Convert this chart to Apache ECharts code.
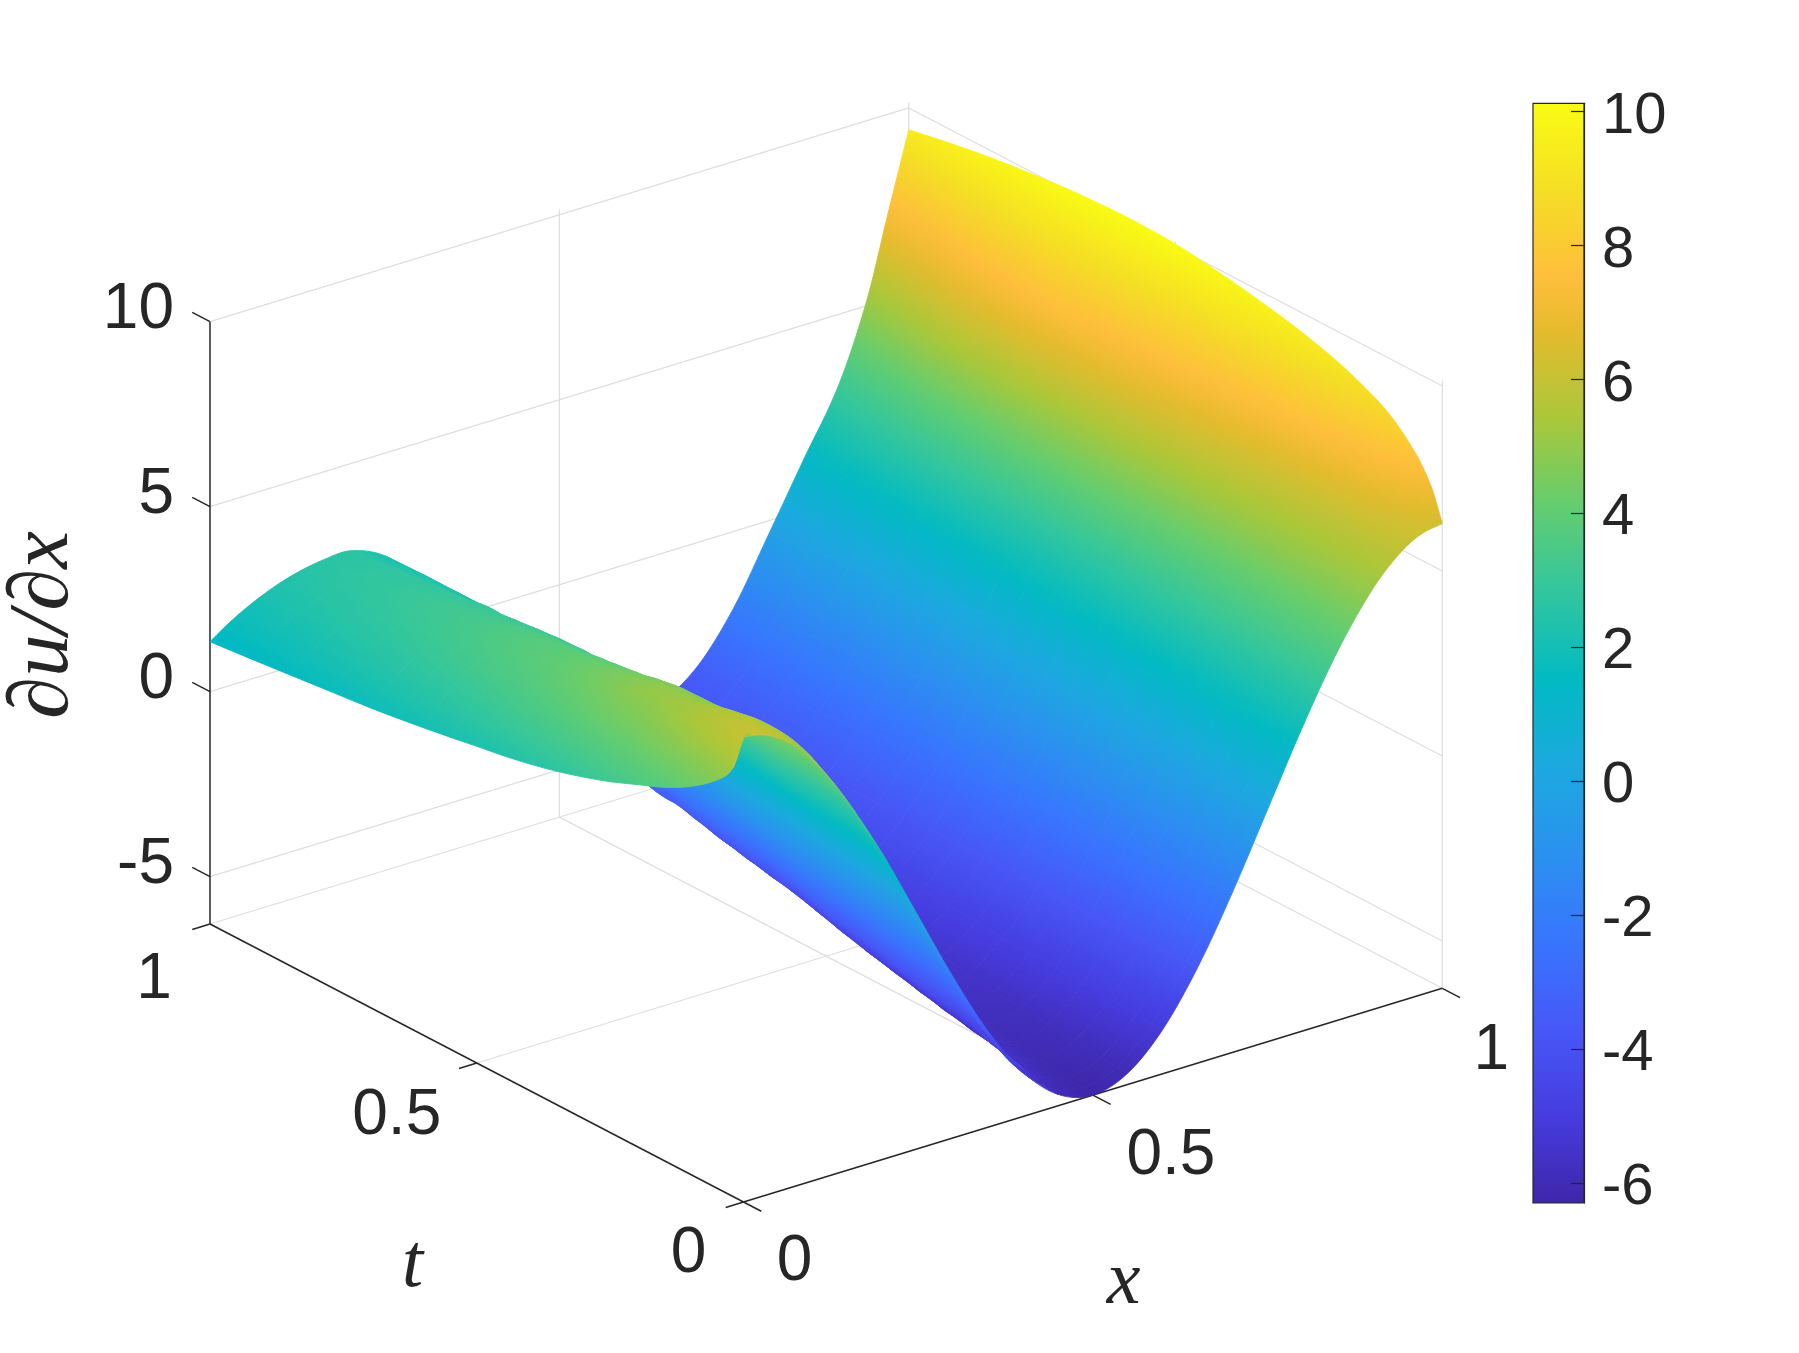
<!DOCTYPE html>
<html><head><meta charset="utf-8">
<style>html,body{margin:0;padding:0;background:#fff}#c{width:1799px;height:1353px}</style>
<script src="https://cdn.jsdelivr.net/npm/echarts@6/dist/echarts.min.js"></script>
</head><body><div id="c"></div>
<script>
// ---------- values ----------
const xValues = [0,.02,.04,.07,.1,.13,.16,.2,.25,.3,.35,.4,.45,.5,.55,.6,.65,.7,.75,.8,.85,.9,.94,.97,1];
const tValues = [0,.02,.05,.1,.15,.2,.25,.3,.35,.4,.45,.5,.55,.6,.65,.7,.775,.85,.925,1];
const z_t000 = [6.28,6.23,6.08,5.69,5.08,4.27,3.33,1.94,0,-1.94,-3.69,-5.08,-5.97,-6.28,-5.97,-5.08,-3.69,-1.94,0,1.94,3.69,5.08,5.84,6.17,6.28];
const z_t002 = [5.3,6.14,6.05,5.72,5.18,4.44,3.55,2.15,.19,-1.78,-3.58,-5.0,-5.93,-6.24,-5.96,-5.07,-3.7,-1.96,-.04,1.9,3.66,5.06,5.84,6.35,7.1];
const z_t005 = [4.75,5.86,5.99,5.79,5.37,4.72,3.87,2.56,.62,-1.37,-3.27,-4.77,-5.78,-6.17,-5.92,-5.05,-3.72,-2.0,-.1,1.82,3.6,5.03,5.86,6.55,7.8];
const z_t010 = [4.2,5.31,5.78,5.72,5.40,4.85,4.1,2.83,.96,-1.03,-2.92,-4.49,-5.6,-6.06,-5.85,-5.0,-3.74,-2.08,-.2,1.7,3.5,5.0,5.9,6.95,8.5];
const z_t015 = [3.8,4.83,5.41,5.52,5.28,4.82,4.13,2.9,1.13,-.85,-2.75,-4.32,-5.47,-5.96,-5.79,-4.96,-3.75,-2.14,-.31,1.57,3.37,4.97,5.95,7.25,8.9];
const z_t020 = [3.5,4.44,5.03,5.3,5.13,4.74,4.1,3.0,1.25,-.67,-2.57,-4.17,-5.32,-5.85,-5.72,-4.92,-3.76,-2.2,-.42,1.45,3.25,4.95,6.0,7.5,9.2];
const z_t025 = [3.2,4.09,4.57,5.11,5.03,4.72,4.16,3.11,1.42,-.47,-2.31,-3.96,-5.16,-5.72,-5.64,-4.89,-3.75,-2.25,-.52,1.32,3.12,4.92,6.12,7.7,9.42];
const z_t030 = [2.95,3.78,4.39,4.89,4.92,4.68,4.2,3.22,1.61,-.23,-2.13,-3.75,-4.99,-5.57,-5.55,-4.85,-3.74,-2.3,-.62,1.2,3.0,4.9,6.25,7.9,9.6];
const z_t035 = [2.73,3.47,4.04,4.56,4.69,4.54,4.14,3.24,1.74,-.08,-1.94,-3.56,-4.82,-5.43,-5.44,-4.8,-3.73,-2.35,-.7,1.08,2.89,4.89,6.42,8.08,9.75];
const z_t040 = [2.55,3.2,3.72,4.24,4.45,4.36,4.04,3.24,1.84,.09,-1.74,-3.37,-4.63,-5.29,-5.33,-4.75,-3.72,-2.4,-.78,.97,2.78,4.88,6.6,8.25,9.88];
const z_t045 = [2.4,2.98,3.45,3.94,4.19,4.19,3.95,3.27,1.94,.28,-1.49,-3.09,-4.42,-5.14,-5.23,-4.68,-3.72,-2.45,-.86,.86,2.66,4.86,6.78,8.38,9.99];
const z_t050 = [2.28,2.79,3.2,3.67,3.93,4.0,3.84,3.27,2.05,.46,-1.27,-2.91,-4.22,-4.97,-5.12,-4.62,-3.72,-2.5,-.95,.75,2.55,4.85,6.95,8.5,10.08];
const z_t055 = [2.15,2.62,3.02,3.47,3.75,3.85,3.75,3.25,2.13,.6,-1.12,-2.75,-4.07,-4.87,-5.02,-4.56,-3.73,-2.57,-1.07,.63,2.44,4.8,7.05,8.58,10.11];
const z_t060 = [2.03,2.47,2.85,3.28,3.56,3.69,3.65,3.23,2.19,.72,-.96,-2.59,-3.91,-4.74,-4.92,-4.5,-3.75,-2.65,-1.2,.5,2.32,4.75,7.15,8.65,10.12];
const z_t065 = [1.92,2.32,2.67,3.08,3.35,3.5,3.5,3.17,2.23,.83,-.78,-2.39,-3.74,-4.6,-4.83,-4.45,-3.77,-2.72,-1.31,.38,2.21,4.68,7.2,8.68,10.09];
const z_t070 = [1.82,2.19,2.51,2.89,3.16,3.31,3.35,3.09,2.24,.94,-.62,-2.18,-3.54,-4.44,-4.72,-4.4,-3.8,-2.8,-1.42,.25,2.1,4.6,7.2,8.7,10.05];
const z_t078 = [1.7,2.03,2.32,2.67,2.93,3.08,3.15,2.99,2.27,1.07,-.42,-1.98,-3.35,-4.25,-4.6,-4.35,-3.84,-2.92,-1.58,.1,1.93,4.3,6.9,8.5,9.94];
const z_t085 = [1.58,1.88,2.14,2.46,2.7,2.86,2.94,2.88,2.26,1.17,-.25,-1.74,-3.08,-4.07,-4.48,-4.3,-3.88,-3.05,-1.75,-.05,1.75,3.95,6.5,8.2,9.8];
const z_t093 = [1.46,1.74,1.98,2.29,2.52,2.69,2.78,2.76,2.26,1.27,-.17,-1.56,-2.9,-3.9,-4.37,-4.25,-3.93,-3.18,-1.9,-.2,1.55,3.5,5.75,7.75,9.62];
const z_t100 = [1.35,1.61,1.84,2.13,2.36,2.52,2.62,2.65,2.23,1.31,-.08,-1.38,-2.7,-3.73,-4.23,-4.2,-3.98,-3.3,-2.05,-.35,1.38,3.1,5.15,7.3,9.41];
const zRows = [z_t000,z_t002,z_t005,z_t010,z_t015,z_t020,z_t025,z_t030,z_t035,z_t040,z_t045,z_t050,z_t055,z_t060,z_t065,z_t070,z_t078,z_t085,z_t093,z_t100];

const zTicks = [-5,0,5,10];
const xTicks = [0,.5,1];
const tTicks = [0,.5,1];
const barTicks = [-6,-4,-2,0,2,4,6,8,10];
const colorMin = -6.3, colorMax = 10.126;
const zFloor = -6.28, zTop = 10;

// parula colour map: [fraction, r, g, b]
const parula = [[0,62,38,168],[.079,70,60,222],[.159,71,88,248],[.238,56,117,254],[.317,43,145,239],[.397,28,169,223],[.476,2,186,195],[.556,49,198,159],[.635,100,205,111],[.714,171,199,57],[.794,230,187,45],[.841,254,190,60],[.92,245,222,37],[1,249,251,20]];

// ---------- the view of the 3-D box (orthographic) ----------
const origin = [743.5,1202], xVec = [698.8,-213.7], tVec = [-533.5,-278], zPerUnit = 37;
const FONT = '"Liberation Sans", Arial, Helvetica, sans-serif';
const MATH = '"Liberation Serif", "DejaVu Serif", serif';
const INK = '#262626', GRID = '#dedede';

function view(x,t,z){
  return [origin[0]+x*xVec[0]+t*tVec[0], origin[1]+x*xVec[1]+t*tVec[1]-(z-zFloor)*zPerUnit];
}
function depth(x,t,z){ return 491*x+638*t-262*(z-zFloor)/(zTop-zFloor); }
function colorAt(v){
  const f=Math.max(0,Math.min(1,(v-colorMin)/(colorMax-colorMin)));
  for(let i=1;i<parula.length;i++){
    if(f<=parula[i][0]){
      const a=parula[i-1],b=parula[i],k=(f-a[0])/(b[0]-a[0]);
      return 'rgb('+[1,2,3].map(n=>Math.round(a[n]+(b[n]-a[n])*k)).join(',')+')';
    }
  }
  return 'rgb(249,251,20)';
}
function cellFill(p,c){
  const lo=Math.min(...c),hi=Math.max(...c),mean=(c[0]+c[1]+c[2]+c[3])/4;
  const ax=p[2][0]-p[0][0],ay=p[2][1]-p[0][1],ac=c[2]-c[0];
  const bx=p[3][0]-p[1][0],by=p[3][1]-p[1][1],bc=c[3]-c[1];
  const det=ax*by-ay*bx;
  if(Math.abs(det)<4||hi-lo<.01) return colorAt(mean);
  const gx=(ac*by-bc*ay)/det,gy=(ax*bc-bx*ac)/det,g2=gx*gx+gy*gy;
  const mx=(p[0][0]+p[1][0]+p[2][0]+p[3][0])/4,my=(p[0][1]+p[1][1]+p[2][1]+p[3][1])/4;
  const x1=mx+(lo-mean)*gx/g2,y1=my+(lo-mean)*gy/g2,x2=mx+(hi-mean)*gx/g2,y2=my+(hi-mean)*gy/g2;
  if(Math.hypot(x2-x1,y2-y1)>400) return colorAt(mean);
  const stops=[];
  for(let i=0;i<=6;i++) stops.push({offset:i/6,color:colorAt(lo+(hi-lo)*i/6)});
  return {type:'linear',x:x1,y:y1,x2:x2,y2:y2,global:true,colorStops:stops};
}

// ---------- surface cells, far ones first ----------
const cells=[];
for(let j=0;j<tValues.length-1;j++)for(let i=0;i<xValues.length-1;i++){
  const zc=(zRows[j][i]+zRows[j][i+1]+zRows[j+1][i]+zRows[j+1][i+1])/4;
  cells.push([i,j,depth((xValues[i]+xValues[i+1])/2,(tValues[j]+tValues[j+1])/2,zc)]);
}
cells.sort((a,b)=>b[2]-a[2]);

// ---------- grid lines, axis lines and ticks: [x1,t1,z1,x2,t2,z2] ----------
const gridSegs=[], axisSegs=[];
zTicks.forEach(z=>{gridSegs.push([0,1,z,1,1,z],[1,1,z,1,0,z]);});
[.5,1].forEach(x=>gridSegs.push([x,1,zFloor,x,1,zTop+.15]));
[0,.5].forEach(t=>gridSegs.push([1,t,zFloor,1,t,zTop+.15]));
gridSegs.push([0,1,zFloor,1,1,zFloor],[1,1,zFloor,1,0,zFloor],[.5,0,zFloor,.5,1,zFloor],[0,.5,zFloor,1,.5,zFloor]);
axisSegs.push([0,1,zFloor,0,1,zTop],[0,1,zFloor,0,0,zFloor],[0,0,zFloor,1,0,zFloor]);
zTicks.forEach(z=>axisSegs.push([0,1,z,0,1.0333,z]));
xTicks.forEach(x=>axisSegs.push([x,0,zFloor,x,-.0333,zFloor]));
tTicks.forEach(t=>axisSegs.push([0,t,zFloor,-.0254,t,zFloor]));

// ---------- text: [label, x, t, z, dx, dy, align, font size, family, italic, rotation] ----------
const boxTexts=[];
zTicks.forEach(z=>boxTexts.push([String(z),0,1,z,-36,-11,'right',64,FONT,0,0]));
boxTexts.push(['1',0,1,zFloor,-56,56,'center',64,FONT,0,0]);
boxTexts.push(['0.5',0,.5,zFloor,-80,53,'center',64,FONT,0,0]);
boxTexts.push(['0',0,0,zFloor,-55,52,'center',64,FONT,0,0]);
boxTexts.push(['0',0,0,zFloor,51,60,'center',64,FONT,0,0]);
boxTexts.push(['0.5',.5,0,zFloor,78,61,'center',64,FONT,0,0]);
boxTexts.push(['1',1,0,zFloor,49,63,'center',64,FONT,0,0]);
boxTexts.push(['t',0,0,zFloor,-331,64,'center',76,MATH,1,0]);
boxTexts.push(['x',0,0,zFloor,380,81,'center',76,MATH,1,0]);
boxTexts.push(['∂u/∂x',0,1,zFloor,-165,-299,'center',85,MATH,1,Math.PI/2]);

function line(s,api,color,w){
  const a=api.coord(view(s[0],s[1],s[2])),b=api.coord(view(s[3],s[4],s[5]));
  return {type:'line',shape:{x1:a[0],y1:a[1],x2:b[0],y2:b[1]},style:{stroke:color,lineWidth:w},silent:true};
}

// tangent (screen units per unit of parameter) at node k of a run of nodes
function tangent(run,params,k){
  const n=run.length-1;
  const a=run[Math.max(0,k-1)],b=run[Math.min(n,k+1)];
  const h=params[Math.min(n,k+1)]-params[Math.max(0,k-1)];
  return [(b[0]-a[0])/h,(b[1]-a[1])/h];
}
// one curved cell edge from node k to node k+1 (forward) or back
function edge(run,params,k,back){
  const from=back?k+1:k,to=back?k:k+1,h=params[to]-params[from];
  const m0=tangent(run,params,from),m1=tangent(run,params,to);
  const p0=run[from],p1=run[to];
  return ' C'+[p0[0]+m0[0]*h/3,p0[1]+m0[1]*h/3,p1[0]-m1[0]*h/3,p1[1]-m1[1]*h/3,p1[0],p1[1]].map(v=>v.toFixed(2)).join(' ');
}

const chart=echarts.init(document.getElementById('c'),null,{renderer:'canvas'});
chart.setOption({
  animation:false,
  backgroundColor:'#fff',
  grid:[
    {left:0,top:0,width:1799,height:1353},
    {left:1533,top:103.3,width:51,height:1099.7}
  ],
  xAxis:[
    {gridIndex:0,type:'value',min:0,max:1799,show:false},
    {gridIndex:1,type:'value',min:0,max:1,show:false}
  ],
  yAxis:[
    {gridIndex:0,type:'value',min:0,max:1353,inverse:true,show:false},
    {gridIndex:1,type:'value',min:colorMin,max:colorMax,position:'right',z:6,splitLine:{show:false},
     axisLine:{show:true,onZero:false,lineStyle:{color:INK,width:1.2}},
     axisTick:{show:true,inside:true,length:13,customValues:barTicks,lineStyle:{color:INK,width:1.2}},
     axisLabel:{show:false,customValues:barTicks}}
  ],
  series:[
    {type:'custom',name:'grid',coordinateSystem:'cartesian2d',xAxisIndex:0,yAxisIndex:0,z:1,clip:false,silent:true,
     data:gridSegs,renderItem:(p,api)=>line(gridSegs[p.dataIndex],api,GRID,1.2)},
    {type:'custom',name:'axes',coordinateSystem:'cartesian2d',xAxisIndex:0,yAxisIndex:0,z:2,clip:false,silent:true,
     data:axisSegs,renderItem:(p,api)=>line(axisSegs[p.dataIndex],api,INK,1.5)},
    {type:'custom',name:'du/dx',coordinateSystem:'cartesian2d',xAxisIndex:0,yAxisIndex:0,z:3,clip:false,silent:true,
     data:cells,
     renderItem:(params,api)=>{
       const cell=cells[params.dataIndex],i=cell[0],j=cell[1];
       const P=(a,b)=>api.coord(view(xValues[a],tValues[b],zRows[b][a]));
       const rowA=xValues.map((_,a)=>P(a,j)),rowB=xValues.map((_,a)=>P(a,j+1));
       const colA=tValues.map((_,b)=>P(i,b)),colB=tValues.map((_,b)=>P(i+1,b));
       const pts=[rowA[i],rowA[i+1],rowB[i+1],rowB[i]];
       const vals=[zRows[j][i],zRows[j][i+1],zRows[j+1][i+1],zRows[j+1][i]];
       const d='M'+pts[0][0].toFixed(2)+' '+pts[0][1].toFixed(2)
         +edge(rowA,xValues,i,false)+edge(colB,tValues,j,false)
         +edge(rowB,xValues,i,true)+edge(colA,tValues,j,true)+' Z';
       const fill=cellFill(pts,vals);
       return {type:'path',shape:{pathData:d},style:{fill:fill,stroke:fill,lineWidth:.9,lineJoin:'round'},silent:true};
     }},
    {type:'custom',name:'texts',coordinateSystem:'cartesian2d',xAxisIndex:0,yAxisIndex:0,z:4,clip:false,silent:true,
     data:boxTexts,
     renderItem:(params,api)=>{
       const b=boxTexts[params.dataIndex],q=api.coord(view(b[1],b[2],b[3]));
       return {type:'text',x:q[0]+b[4],y:q[1]+b[5],rotation:b[10],silent:true,
         style:{text:b[0],fill:INK,textAlign:b[6],textVerticalAlign:'middle',
           font:(b[9]?'italic ':'')+b[7]+'px '+b[8]}};
     }},
    {type:'custom',name:'colorbar',coordinateSystem:'cartesian2d',xAxisIndex:1,yAxisIndex:1,z:1,clip:false,silent:true,
     data:[[colorMin,colorMax]],
     renderItem:(params,api)=>{
       const a=api.coord([0,colorMax]),b=api.coord([1,colorMin]);
       return {type:'rect',shape:{x:a[0],y:a[1],width:b[0]-a[0],height:b[1]-a[1]},silent:true,
         style:{stroke:INK,lineWidth:1.2,fill:{type:'linear',x:0,y:1,x2:0,y2:0,
           colorStops:parula.map(s=>({offset:s[0],color:'rgb('+s[1]+','+s[2]+','+s[3]+')'}))}}};
     }},
    {type:'custom',name:'colorbar labels',coordinateSystem:'cartesian2d',xAxisIndex:1,yAxisIndex:1,z:4,clip:false,silent:true,
     data:barTicks.map(v=>[1,v]),
     renderItem:(params,api)=>{
       const v=barTicks[params.dataIndex],q=api.coord([1,v]);
       return {type:'text',x:q[0]+18,y:q[1]+5,silent:true,
         style:{text:String(v),fill:INK,textAlign:'left',textVerticalAlign:'middle',font:'58px '+FONT}};
     }}
  ]
});
</script></body></html>
